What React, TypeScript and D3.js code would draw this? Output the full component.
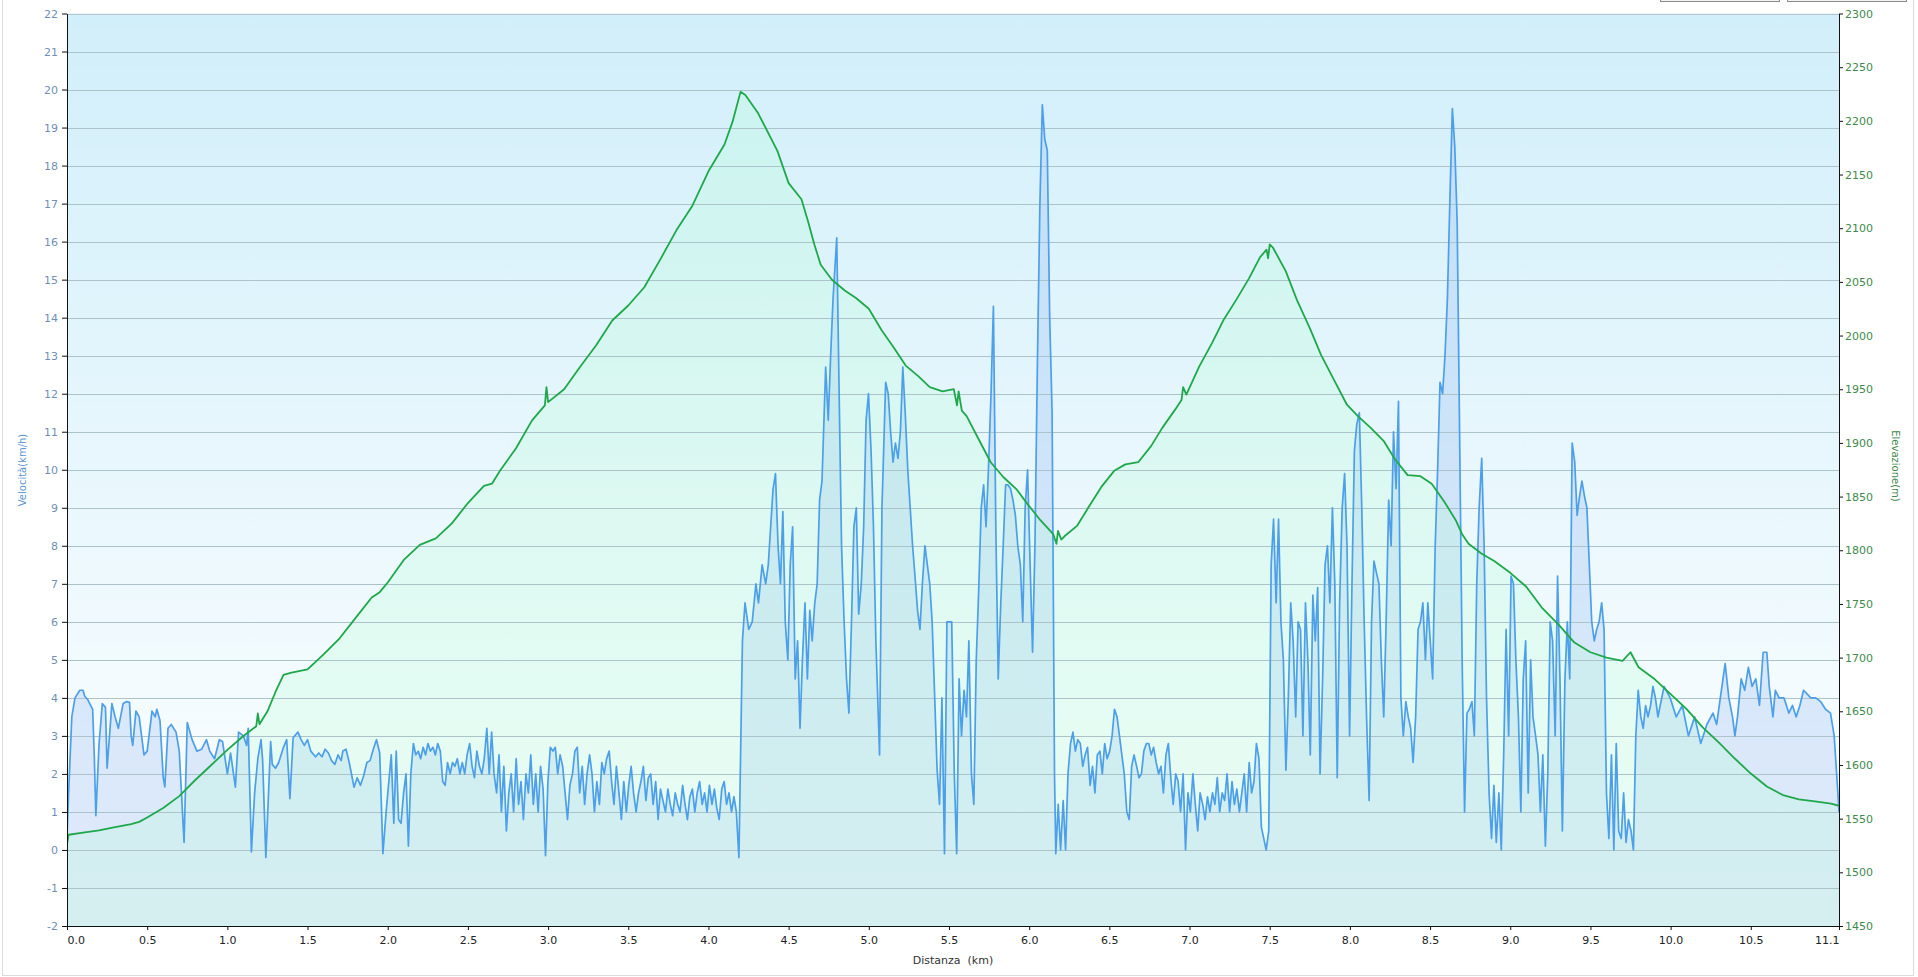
import { useRef, useEffect } from 'react'
import * as d3 from 'd3'

// axis ticks
const speedTicks = [-2, -1, 0, 1, 2, 3, 4, 5, 6, 7, 8, 9, 10, 11, 12, 13, 14, 15, 16, 17, 18, 19, 20, 21, 22]
const elevationTicks = [1450, 1500, 1550, 1600, 1650, 1700, 1750, 1800, 1850, 1900, 1950, 2000, 2050, 2100, 2150, 2200, 2250, 2300]
const distanceTicks = [0, 0.5, 1, 1.5, 2, 2.5, 3, 3.5, 4, 4.5, 5, 5.5, 6, 6.5, 7, 7.5, 8, 8.5, 9, 9.5, 10, 10.5, 11.05]
const distanceMax = 11.05

// speed (km/h) by distance (km)
const speedStart: [number, number][] = [
  [0, 0.3], [0.01, 1.5], [0.03, 3.5], [0.05, 4.0], [0.08, 4.2], [0.1, 4.2], [0.11, 4.05], [0.13, 3.95],
  [0.16, 3.7], [0.17, 2.5], [0.18, 0.9], [0.2, 2.8], [0.21, 3.3], [0.22, 3.85], [0.24, 3.75], [0.25, 2.15],
  [0.28, 3.85], [0.3, 3.5], [0.31, 3.35], [0.32, 3.2], [0.35, 3.85], [0.37, 3.9], [0.39, 3.88], [0.4, 3.0],
  [0.41, 2.75], [0.43, 3.65], [0.45, 3.5], [0.48, 2.5], [0.5, 2.6], [0.53, 3.65], [0.55, 3.5], [0.56, 3.7],
  [0.58, 3.4], [0.6, 1.9], [0.61, 1.66], [0.63, 3.2], [0.65, 3.3], [0.68, 3.1], [0.7, 2.6], [0.73, 0.2],
  [0.75, 3.35], [0.78, 2.9], [0.81, 2.6], [0.84, 2.65], [0.87, 2.9], [0.89, 2.6], [0.92, 2.4], [0.95, 2.9],
  [0.97, 2.85], [1.0, 2.0], [1.02, 2.55], [1.05, 1.65], [1.07, 3.1], [1.1, 3.0], [1.12, 2.75], [1.13, 3.2],
  [1.15, -0.05], [1.17, 1.5], [1.19, 2.4], [1.21, 2.9], [1.22, 2.35], [1.24, -0.2], [1.27, 2.85], [1.28, 2.25],
  [1.3, 2.15], [1.32, 2.3], [1.35, 2.7], [1.37, 2.9], [1.39, 1.35], [1.41, 2.95], [1.44, 3.1], [1.46, 2.9],
  [1.48, 2.75], [1.5, 2.9], [1.52, 2.6], [1.55, 2.45], [1.57, 2.55], [1.59, 2.45], [1.61, 2.65], [1.63, 2.55],
  [1.65, 2.35], [1.67, 2.25], [1.69, 2.5], [1.71, 2.35], [1.72, 2.6], [1.74, 2.65], [1.76, 2.3], [1.79, 1.65],
  [1.81, 1.9], [1.83, 1.7], [1.85, 1.95], [1.87, 2.3], [1.89, 2.35], [1.91, 2.65], [1.93, 2.9], [1.95, 2.55],
  [1.97, -0.1], [1.99, 1.0],
]

const speedUphill: [number, number][] = [
  [2.022, 2.5], [2.038, 0.7], [2.053, 2.6], [2.068, 0.8], [2.083, 0.7], [2.099, 1.5], [2.114, 2.0], [2.129, 0.1],
  [2.144, 2.0], [2.16, 2.8], [2.175, 2.5], [2.19, 2.6], [2.205, 2.4], [2.221, 2.7], [2.236, 2.5], [2.251, 2.8],
  [2.266, 2.6], [2.282, 2.7], [2.297, 2.5], [2.312, 2.8], [2.328, 2.6], [2.343, 1.8], [2.358, 1.7], [2.373, 2.3],
  [2.389, 2.0], [2.404, 2.3], [2.419, 2.2], [2.434, 2.4], [2.45, 2.0], [2.465, 2.3], [2.48, 2.0], [2.495, 2.5],
  [2.511, 2.8], [2.526, 2.2], [2.541, 1.9], [2.556, 2.6], [2.572, 2.2], [2.587, 2.0], [2.602, 2.4], [2.618, 3.2],
  [2.633, 2.0], [2.648, 3.1], [2.663, 2.0], [2.679, 1.5], [2.694, 2.5], [2.709, 1.0], [2.724, 2.2], [2.74, 0.5],
  [2.755, 1.5], [2.77, 2.0], [2.785, 1.0], [2.801, 2.4], [2.816, 1.2], [2.831, 1.8], [2.846, 0.8], [2.862, 2.0],
  [2.877, 1.5], [2.892, 2.5], [2.908, 1.2], [2.923, 2.0], [2.938, 1.0], [2.953, 2.2], [2.969, 1.6], [2.984, -0.15],
  [2.999, 1.8], [3.014, 2.7], [3.03, 2.6], [3.045, 2.7], [3.06, 2.0], [3.075, 2.5], [3.091, 2.2], [3.106, 1.5],
  [3.121, 0.8], [3.136, 1.7], [3.152, 2.0], [3.167, 2.6], [3.182, 2.7], [3.197, 1.5], [3.213, 2.2], [3.228, 1.2],
  [3.243, 2.0], [3.259, 2.5], [3.274, 2.0], [3.289, 1.0], [3.304, 1.8], [3.32, 1.2], [3.335, 2.3], [3.35, 2.0],
  [3.365, 2.4], [3.381, 2.6], [3.396, 1.8], [3.411, 1.2], [3.426, 2.2], [3.442, 1.5], [3.457, 0.8], [3.472, 1.8],
  [3.488, 1.0], [3.503, 1.7], [3.518, 2.2], [3.533, 1.5], [3.549, 1.0], [3.564, 1.5], [3.579, 1.8], [3.594, 2.2],
  [3.61, 1.3], [3.625, 1.9], [3.64, 2.0], [3.655, 1.2], [3.671, 1.8], [3.686, 0.8], [3.701, 1.6], [3.716, 1.3],
  [3.732, 1.0], [3.747, 1.6], [3.762, 1.2], [3.777, 0.9], [3.793, 1.5], [3.808, 1.2], [3.823, 1.0], [3.839, 1.7],
  [3.854, 1.2], [3.869, 0.8], [3.884, 1.4], [3.9, 1.6], [3.915, 1.0], [3.93, 1.5], [3.945, 1.8], [3.961, 1.2],
  [3.976, 1.5], [3.991, 1.0], [4.006, 1.7], [4.022, 1.2], [4.037, 1.6], [4.052, 1.1], [4.067, 0.8], [4.083, 1.6],
  [4.098, 1.8], [4.113, 1.2], [4.128, 1.5], [4.144, 1.0], [4.159, 1.4], [4.174, 1.0], [4.19, -0.2],
]

const speedDownhill: [number, number][] = [
  [4.212, 5.5], [4.228, 6.5], [4.251, 5.8], [4.273, 6.0], [4.296, 7.0], [4.312, 6.5], [4.335, 7.5], [4.357, 7.0],
  [4.373, 7.5], [4.388, 8.5], [4.403, 9.5], [4.418, 9.9], [4.434, 8.0], [4.449, 7.0], [4.464, 8.9], [4.479, 6.0],
  [4.495, 5.0], [4.51, 7.5], [4.525, 8.5], [4.541, 4.5], [4.556, 5.5], [4.571, 3.2], [4.586, 5.0], [4.602, 6.5],
  [4.617, 4.5], [4.632, 6.3], [4.647, 5.5], [4.663, 6.5], [4.678, 7.0], [4.693, 9.2], [4.708, 9.7], [4.731, 12.7],
  [4.747, 11.3], [4.762, 13.0], [4.777, 14.5], [4.8, 16.1], [4.815, 12.0], [4.83, 8.0], [4.846, 6.0], [4.861, 4.5],
  [4.876, 3.6], [4.892, 6.0], [4.907, 8.5], [4.922, 9.0], [4.937, 6.2], [4.953, 7.0], [4.968, 8.5], [4.983, 11.3],
  [4.998, 12.0], [5.014, 10.5], [5.029, 8.5], [5.044, 5.5], [5.067, 2.5], [5.082, 9.0], [5.105, 12.3], [5.121, 12.0],
  [5.136, 11.0], [5.151, 10.2], [5.166, 10.7], [5.182, 10.3], [5.197, 11.0], [5.212, 12.7], [5.227, 11.5], [5.243, 10.0],
  [5.258, 9.0], [5.273, 8.0], [5.288, 7.2], [5.304, 6.3], [5.319, 5.8], [5.334, 7.0], [5.35, 8.0], [5.365, 7.5],
  [5.38, 7.0], [5.395, 6.0], [5.411, 4.0], [5.426, 2.1], [5.441, 1.2], [5.456, 4.0], [5.472, -0.1], [5.487, 6.0],
  [5.502, 6.0], [5.517, 6.0], [5.533, 2.0], [5.548, -0.1], [5.563, 4.5], [5.578, 3.0], [5.594, 4.2], [5.609, 3.5],
  [5.624, 5.5], [5.64, 2.0], [5.655, 1.2], [5.67, 5.0], [5.685, 6.8], [5.701, 9.0], [5.716, 9.6], [5.731, 8.5],
  [5.746, 10.0], [5.762, 12.0], [5.777, 14.3], [5.792, 8.5], [5.807, 4.5], [5.823, 6.5], [5.838, 8.0], [5.853, 9.6],
  [5.868, 9.6], [5.884, 9.5], [5.899, 9.2], [5.914, 8.8], [5.929, 8.0], [5.945, 7.5], [5.96, 6.0], [5.975, 9.0],
  [5.99, 10.0], [6.006, 7.5], [6.021, 5.2], [6.036, 8.0], [6.052, 13.0], [6.067, 17.0], [6.082, 19.6], [6.097, 18.7],
  [6.113, 18.4], [6.128, 14.0], [6.143, 11.5], [6.158, 2.0], [6.166, -0.1], [6.181, 1.2], [6.196, 0.0], [6.212, 1.3],
  [6.227, 0.0],
]

const speedSecondClimb: [number, number][] = [
  [6.242, 2.0], [6.258, 2.8], [6.273, 3.1], [6.288, 2.6], [6.303, 2.9], [6.319, 2.8], [6.334, 2.2], [6.349, 2.5],
  [6.364, 2.7], [6.38, 1.7], [6.395, 2.2], [6.41, 1.5], [6.425, 2.5], [6.441, 2.6], [6.456, 2.0], [6.471, 2.8],
  [6.486, 2.4], [6.502, 2.6], [6.517, 3.0], [6.532, 3.7], [6.548, 3.5], [6.563, 3.0], [6.578, 2.5], [6.593, 2.0],
  [6.609, 1.0], [6.624, 0.8], [6.639, 2.2], [6.654, 2.5], [6.67, 2.2], [6.685, 1.9], [6.7, 2.0], [6.715, 2.6],
  [6.731, 2.8], [6.746, 2.8], [6.761, 2.5], [6.776, 2.7], [6.792, 2.3], [6.807, 2.0], [6.822, 2.2], [6.837, 1.5],
  [6.853, 2.5], [6.868, 2.8], [6.883, 1.9], [6.898, 1.2], [6.914, 2.0], [6.929, 1.8], [6.944, 1.0], [6.96, 2.0],
  [6.975, 0.0], [6.99, 1.5], [7.005, 1.0], [7.021, 2.0], [7.036, 1.2], [7.051, 0.5], [7.066, 1.5], [7.082, 1.2],
  [7.097, 0.8], [7.112, 1.4], [7.127, 1.0], [7.143, 1.5], [7.158, 1.2], [7.173, 1.9], [7.188, 1.0], [7.204, 1.5],
  [7.219, 1.3], [7.234, 2.0], [7.25, 1.0], [7.265, 1.8], [7.28, 1.2], [7.295, 1.6], [7.311, 1.0], [7.326, 1.5],
  [7.341, 2.0], [7.356, 1.0], [7.372, 2.3], [7.387, 1.5], [7.402, 1.8], [7.417, 2.8], [7.433, 2.4], [7.448, 0.6],
  [7.463, 0.3], [7.478, 0.0], [7.494, 0.5],
]

const speedFinish: [number, number][] = [
  [7.509, 7.5], [7.524, 8.7], [7.54, 6.5], [7.555, 8.7], [7.57, 6.0], [7.585, 5.0], [7.601, 2.1], [7.616, 4.0],
  [7.631, 6.5], [7.646, 5.5], [7.662, 3.5], [7.677, 6.0], [7.692, 5.8], [7.707, 3.0], [7.723, 6.5], [7.738, 5.0],
  [7.753, 2.5], [7.769, 6.7], [7.784, 5.5], [7.799, 6.9], [7.814, 2.0], [7.83, 4.5], [7.845, 7.5], [7.86, 8.0],
  [7.875, 6.5], [7.891, 9.0], [7.906, 7.0], [7.921, 1.9], [7.936, 6.5], [7.952, 9.0], [7.967, 9.9], [7.982, 8.0],
  [7.998, 3.0], [8.013, 7.0], [8.028, 10.5], [8.043, 11.2], [8.059, 11.5], [8.074, 9.0], [8.089, 6.0], [8.104, 3.5],
  [8.12, 1.3], [8.135, 6.0], [8.15, 7.6], [8.165, 7.3], [8.181, 7.0], [8.196, 5.0], [8.211, 3.5], [8.226, 6.0],
  [8.242, 9.2], [8.257, 8.0], [8.272, 11.0], [8.288, 9.5], [8.303, 11.8], [8.318, 4.0], [8.333, 3.0], [8.349, 3.9],
  [8.364, 3.5], [8.379, 3.2], [8.394, 2.3], [8.41, 3.5], [8.425, 5.8], [8.44, 6.0], [8.455, 6.5], [8.471, 5.0],
  [8.486, 6.5], [8.501, 5.5], [8.516, 4.5], [8.532, 8.0], [8.547, 10.0], [8.562, 12.3], [8.578, 12.0], [8.593, 13.0],
  [8.608, 14.5], [8.623, 17.0], [8.639, 19.5], [8.654, 18.5], [8.669, 16.5], [8.684, 11.0], [8.7, 5.0], [8.715, 1.0],
  [8.73, 3.6], [8.745, 3.7], [8.761, 3.9], [8.776, 3.0], [8.791, 7.0], [8.806, 9.0], [8.822, 10.3], [8.837, 8.0],
  [8.852, 4.0], [8.868, 1.5], [8.883, 0.3], [8.898, 1.7], [8.913, 0.2], [8.929, 1.5], [8.944, 0.0], [8.959, 2.5],
  [8.974, 5.8], [8.99, 3.0], [9.005, 7.2], [9.02, 7.0], [9.035, 5.0], [9.051, 3.5], [9.066, 1.0], [9.081, 4.5],
  [9.096, 5.5], [9.112, 1.5], [9.127, 5.0], [9.142, 3.5], [9.158, 3.0], [9.173, 2.5], [9.188, 1.0], [9.203, 2.5],
  [9.219, 0.1], [9.234, 2.0], [9.249, 6.0], [9.264, 5.5], [9.28, 3.0], [9.295, 7.2], [9.31, 4.5], [9.325, 0.5],
  [9.341, 4.5], [9.356, 6.0], [9.371, 4.5], [9.386, 10.7], [9.402, 10.2], [9.417, 8.8], [9.432, 9.3], [9.447, 9.7],
  [9.463, 9.3], [9.478, 9.0], [9.493, 7.5], [9.508, 6.0], [9.524, 5.5], [9.539, 5.8], [9.554, 6.0], [9.57, 6.5],
  [9.585, 5.8], [9.6, 1.5], [9.615, 0.3], [9.631, 2.5], [9.646, 0.0], [9.661, 2.8], [9.676, 0.5], [9.692, 0.3],
  [9.707, 1.5], [9.722, 0.2], [9.737, 0.8], [9.753, 0.5], [9.768, 0.0], [9.783, 3.0], [9.798, 4.2], [9.814, 3.5],
  [9.829, 3.2], [9.844, 3.8], [9.859, 3.5], [9.875, 3.8], [9.89, 4.3], [9.905, 4.0], [9.921, 3.5], [9.959, 4.3],
  [9.997, 4.0], [10.035, 3.5], [10.073, 3.8], [10.111, 3.0], [10.15, 3.5], [10.188, 2.8], [10.226, 3.3], [10.264, 3.6],
  [10.287, 3.3], [10.31, 4.0], [10.34, 4.9], [10.363, 4.0], [10.386, 3.5], [10.401, 3.0], [10.417, 3.5], [10.44, 4.5],
  [10.462, 4.2], [10.485, 4.8], [10.508, 4.3], [10.531, 4.5], [10.554, 3.8], [10.577, 5.2], [10.6, 5.2], [10.615, 4.3],
  [10.638, 3.5], [10.653, 4.2], [10.676, 4.0], [10.707, 4.0], [10.737, 3.6], [10.76, 3.8], [10.783, 3.5], [10.806, 3.8],
  [10.829, 4.2], [10.852, 4.1], [10.874, 4.0], [10.905, 4.0], [10.936, 3.9], [10.966, 3.7], [10.997, 3.6], [11.02, 3.0],
  [11.043, 1.5], [11.05, 1.0],
]

// elevation (m) by distance (km)
const elevation: [number, number][] = [
  [0, 1526], [0.01, 1535], [0.1, 1537], [0.2, 1539], [0.3, 1542], [0.4, 1545], [0.45, 1547], [0.5, 1551],
  [0.6, 1560], [0.7, 1571], [0.8, 1586], [0.9, 1600], [1.0, 1614], [1.1, 1627], [1.18, 1636], [1.19, 1648],
  [1.2, 1638], [1.25, 1650], [1.3, 1668], [1.35, 1684], [1.4, 1686], [1.5, 1689], [1.6, 1703], [1.7, 1718],
  [1.8, 1737], [1.9, 1756], [1.95, 1761], [2.0, 1770], [2.1, 1791], [2.2, 1805], [2.3, 1811], [2.4, 1825],
  [2.5, 1844], [2.6, 1860], [2.65, 1862], [2.7, 1874], [2.8, 1895], [2.9, 1921], [2.98, 1935], [2.99, 1952],
  [3.0, 1938], [3.1, 1950], [3.2, 1971], [3.3, 1991], [3.4, 2014], [3.5, 2028], [3.6, 2045], [3.7, 2071],
  [3.8, 2098], [3.9, 2121], [4.0, 2153], [4.1, 2178], [4.15, 2199], [4.2, 2227], [4.23, 2224], [4.31, 2207],
  [4.43, 2172], [4.5, 2142], [4.58, 2127], [4.62, 2107], [4.66, 2085], [4.7, 2066], [4.77, 2052], [4.85, 2042],
  [4.92, 2035], [5.0, 2025], [5.08, 2005], [5.15, 1990], [5.23, 1972], [5.31, 1962], [5.38, 1952], [5.46, 1948],
  [5.53, 1950], [5.55, 1935], [5.56, 1948], [5.58, 1930], [5.61, 1925], [5.69, 1902], [5.76, 1882], [5.84, 1868],
  [5.92, 1857], [5.99, 1843], [6.07, 1828], [6.15, 1815], [6.17, 1806], [6.18, 1818], [6.2, 1810], [6.22, 1813],
  [6.3, 1823], [6.37, 1840], [6.45, 1859], [6.53, 1874], [6.6, 1880], [6.68, 1882], [6.76, 1897], [6.83, 1914],
  [6.91, 1931], [6.95, 1940], [6.96, 1952], [6.98, 1945], [7.06, 1971], [7.14, 1993], [7.21, 2014], [7.29, 2033],
  [7.37, 2053], [7.44, 2073], [7.48, 2080], [7.49, 2072], [7.5, 2085], [7.52, 2082], [7.6, 2060], [7.67, 2033],
  [7.75, 2007], [7.82, 1982], [7.9, 1959], [7.98, 1936], [8.05, 1925], [8.13, 1914], [8.21, 1902], [8.28, 1885],
  [8.36, 1870], [8.44, 1869], [8.51, 1862], [8.59, 1845], [8.66, 1828], [8.7, 1815], [8.74, 1806], [8.82, 1797],
  [8.9, 1790], [9.0, 1779], [9.1, 1766], [9.2, 1746], [9.3, 1731], [9.4, 1714], [9.5, 1705], [9.6, 1700],
  [9.7, 1697], [9.75, 1705], [9.8, 1691], [9.9, 1680], [10.0, 1666], [10.1, 1652], [10.2, 1635], [10.3, 1621],
  [10.4, 1606], [10.5, 1592], [10.6, 1580], [10.7, 1572], [10.8, 1568], [10.9, 1566], [11.0, 1564], [11.05, 1562],
]

const speed = [...speedStart, ...speedUphill, ...speedDownhill, ...speedSecondClimb, ...speedFinish]

const FONT = "'DejaVu Sans', Verdana, sans-serif"

export default function App() {
  const svgRef = useRef<SVGSVGElement>(null)
  const width = 1918
  const height = 977

  useEffect(() => {
    if (!svgRef.current) return
    const svg = d3.select(svgRef.current)
    svg.selectAll('*').remove()

    const left = 67, right = 1839, top = 13.5, bottom = 926

    const x = d3.scaleLinear().domain([0, distanceMax]).range([left, right])
    const yS = d3.scaleLinear().domain([-2, 22]).range([bottom, top])
    const yE = d3.scaleLinear().domain([1450, 2300]).range([bottom, top])

    const defs = svg.append('defs')
    const bg = defs.append('linearGradient').attr('id', 'bg').attr('x1', 0).attr('y1', 0).attr('x2', 0).attr('y2', 1)
    bg.append('stop').attr('offset', '0%').attr('stop-color', '#d1effa')
    bg.append('stop').attr('offset', '100%').attr('stop-color', '#ffffff')
    defs.append('clipPath').attr('id', 'plot')
      .append('rect').attr('x', left).attr('y', top).attr('width', right - left).attr('height', bottom - top)

    // outer frame and the two buttons cut by the top edge
    svg.append('rect').attr('x', 2.5).attr('y', -10).attr('width', 1911).attr('height', 985.5)
      .attr('fill', '#fff').attr('stroke', '#dcdcdc')
    ;[[1660, 1779], [1787, 1906]].forEach(([a, b]) => {
      svg.append('rect').attr('x', a + 0.5).attr('y', -20).attr('width', b - a).attr('height', 21.5)
        .attr('fill', '#f4f4f4').attr('stroke', '#8a8a8a')
    })

    // plot background
    svg.append('rect').attr('x', left).attr('y', top).attr('width', right - left).attr('height', bottom - top)
      .attr('fill', 'url(#bg)')

    const plot = svg.append('g').attr('clip-path', 'url(#plot)')

    // speed area
    plot.append('path').datum(speed)
      .attr('d', d3.area<[number, number]>().x(d => x(d[0])).y0(bottom).y1(d => yS(d[1])))
      .attr('fill', 'rgba(120,166,238,0.22)')

    // elevation area
    plot.append('path').datum(elevation)
      .attr('d', d3.area<[number, number]>().x(d => x(d[0])).y0(bottom).y1(d => yE(d[1])))
      .attr('fill', 'rgba(175,255,205,0.22)')

    // grid lines
    plot.append('g').selectAll('line').data(speedTicks.slice(1)).join('line')
      .attr('x1', left).attr('x2', right)
      .attr('y1', d => Math.round(yS(d)) + 0.5).attr('y2', d => Math.round(yS(d)) + 0.5)
      .attr('stroke', d => d === 22 ? '#b9c5c9' : '#adc3ca').attr('stroke-width', 1)

    plot.append('path').datum(speed)
      .attr('d', d3.line<[number, number]>().x(d => x(d[0])).y(d => yS(d[1])))
      .attr('fill', 'none').attr('stroke', '#4d9fe9').attr('stroke-width', 1.7)
      .attr('stroke-linejoin', 'round')

    plot.append('path').datum(elevation)
      .attr('d', d3.line<[number, number]>().x(d => x(d[0])).y(d => yE(d[1])))
      .attr('fill', 'none').attr('stroke', '#1fa84a').attr('stroke-width', 1.8)
      .attr('stroke-linejoin', 'round')

    // left axis (speed)
    svg.append('g')
      .attr('transform', `translate(${left},0)`)
      .call(d3.axisLeft(yS).tickValues(speedTicks).tickSize(5).tickSizeOuter(0).tickPadding(4).tickFormat(d => String(d)))
      .call(g => g.select('.domain').attr('stroke', '#111'))
      .call(g => g.selectAll('.tick line').attr('stroke', '#111'))
      .selectAll('text')
      .attr('fill', '#6f8fb5').attr('font-size', '11px').attr('font-family', FONT)

    // right axis (elevation)
    svg.append('g')
      .attr('transform', `translate(${right},0)`)
      .call(d3.axisRight(yE).tickValues(elevationTicks).tickSize(4).tickSizeOuter(0).tickPadding(2).tickFormat(d => String(d)))
      .call(g => g.select('.domain').attr('stroke', '#111'))
      .call(g => g.selectAll('.tick line').attr('stroke', '#111'))
      .selectAll('text')
      .attr('fill', '#3f8a4c').attr('font-size', '11px').attr('font-family', FONT)

    // bottom axis (distance)
    const xAxis = svg.append('g')
      .attr('transform', `translate(0,${bottom})`)
      .call(d3.axisBottom(x).tickValues(distanceTicks).tickSize(4).tickSizeOuter(0).tickPadding(6)
        .tickFormat(d => d3.format('.1f')(+d)))
      .call(g => g.select('.domain').attr('stroke', '#111'))
      .call(g => g.selectAll('.tick line').attr('stroke', '#111'))
    xAxis.selectAll('text')
      .attr('fill', '#222').attr('font-size', '11px').attr('font-family', FONT)
    xAxis.selectAll<SVGTextElement, number>('text')
      .filter(d => d === 0).attr('text-anchor', 'start')
    xAxis.selectAll<SVGTextElement, number>('text')
      .filter(d => d === distanceMax).attr('text-anchor', 'end')

    // axis titles
    svg.append('text')
      .attr('x', (left + right) / 2).attr('y', 964)
      .attr('text-anchor', 'middle').attr('fill', '#333')
      .attr('font-size', '11px').attr('font-family', FONT)
      .attr('xml:space', 'preserve')
      .text('Distanza  (km)')

    svg.append('text')
      .attr('transform', 'translate(26,470) rotate(-90)')
      .attr('text-anchor', 'middle').attr('fill', '#5d95cf')
      .attr('font-size', '10px').attr('font-family', FONT)
      .text('Velocità(km/h)')

    svg.append('text')
      .attr('transform', 'translate(1892,466) rotate(90)')
      .attr('text-anchor', 'middle').attr('fill', '#3f8a4c')
      .attr('font-size', '10px').attr('font-family', FONT)
      .text('Elevazione(m)')
  }, [])

  return (
    <svg
      ref={svgRef}
      width={width}
      height={height}
      style={{ position: 'absolute', left: 0, top: 0, display: 'block' }}
    />
  )
}
